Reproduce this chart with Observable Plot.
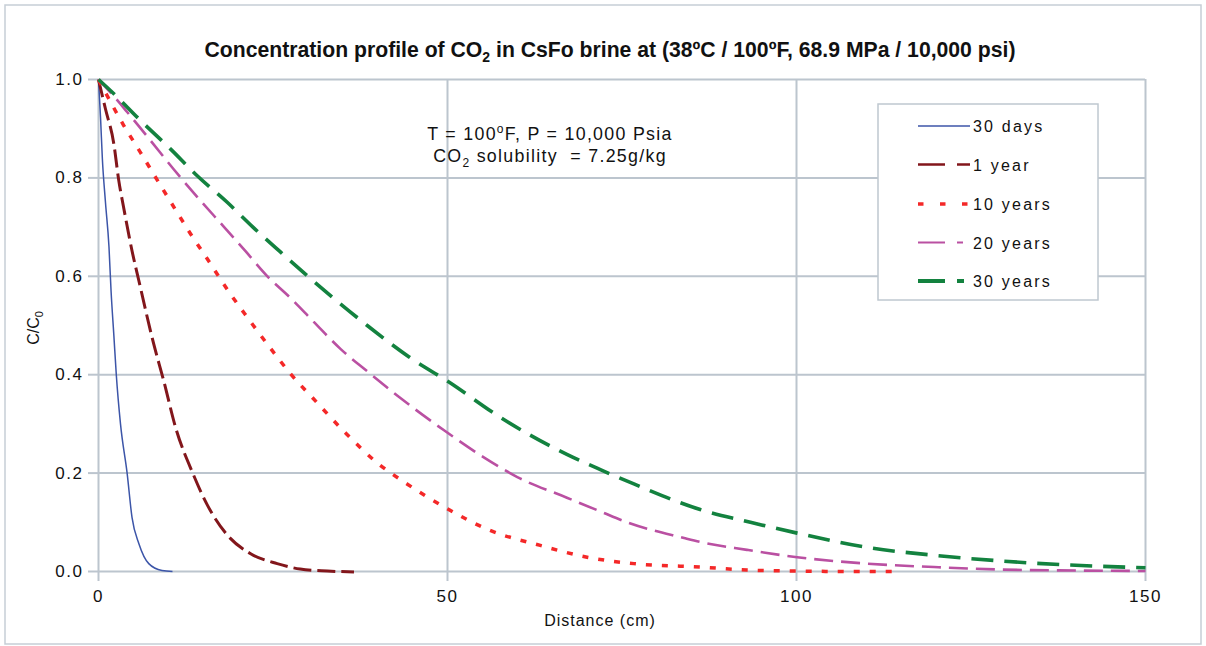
<!DOCTYPE html>
<html><head><meta charset="utf-8">
<script src="https://cdn.jsdelivr.net/npm/d3@7"></script>
<script src="https://cdn.jsdelivr.net/npm/@observablehq/plot@0.6"></script>
<style>
html,body{margin:0;padding:0;background:#fff;}
#chart{position:relative;width:1206px;height:646px;overflow:hidden;}
</style></head><body><div id="chart"></div>
<script>
// ---- data ----
const seriesNames = ["30 days", "1 year", "10 years", "20 years", "30 years"];
const seriesColors = ["#3c55a8", "#82161b", "#f42828", "#ba50a2", "#13823f"];

const dist30days = [0, 0.3, 0.55, 1.0, 1.5, 1.8, 2.2, 2.55, 3.15, 4.1, 4.8, 5.8, 7.2, 9.1, 10.6];
const conc30days = [1.0, 0.92, 0.84, 0.75, 0.66, 0.57, 0.48, 0.40, 0.30, 0.20, 0.11, 0.056, 0.016, 0.002, 0.0];

const dist1year = [0, 1.0, 2.2, 2.9, 3.6, 4.8, 5.8, 7.9, 9.3, 11.1, 13.5, 15.6, 18.4, 21.8, 25.6, 28.9, 32.8, 36.6];
const conc1year = [1.0, 0.94, 0.869, 0.795, 0.74, 0.652, 0.59, 0.463, 0.39, 0.29, 0.20, 0.135, 0.075, 0.036, 0.016, 0.005, 0.001, -0.001];

const dist10years = [0, 1.7, 3.6, 6.0, 8.4, 11.0, 13.2, 15.6, 18.9, 21.3, 25.6, 27.5, 30.8, 35.5, 40, 44.2, 49.2, 56.2, 63.3, 70.0, 76.7, 86.2, 92.9, 100, 107, 114.2];
const conc10years = [1.0, 0.955, 0.907, 0.852, 0.796, 0.736, 0.686, 0.635, 0.564, 0.517, 0.436, 0.402, 0.351, 0.28, 0.22, 0.178, 0.134, 0.083, 0.053, 0.029, 0.016, 0.009, 0.003, 0.001, 0.0, 0.0];

const dist20years = [0, 2.2, 4.1, 7.45, 10.8, 14.1, 18.0, 21.0, 24.2, 27.5, 30.8, 34.7, 38.5, 43.3, 49.5, 55.2, 60.0, 67.1, 71.9, 75.7, 83.9, 86.2, 92.9, 100.1, 110.1, 119.7, 129.2, 140, 150];
const conc20years = [1.0, 0.966, 0.934, 0.876, 0.817, 0.762, 0.700, 0.652, 0.600, 0.556, 0.508, 0.452, 0.407, 0.352, 0.287, 0.232, 0.192, 0.150, 0.122, 0.10, 0.068, 0.06, 0.044, 0.029, 0.016, 0.009, 0.004, 0.002, 0.001];

const dist30years = [0, 2.2, 6.0, 10.3, 14.1, 18.4, 22.2, 26.1, 30.4, 38.5, 44.5, 50.2, 57.6, 67.1, 71.9, 76.7, 86.2, 93.4, 100.1, 110.1, 119.7, 128.7, 134, 150];
const conc30years = [1.0, 0.971, 0.917, 0.859, 0.805, 0.751, 0.699, 0.649, 0.595, 0.50, 0.436, 0.385, 0.313, 0.238, 0.207, 0.178, 0.126, 0.10, 0.078, 0.049, 0.033, 0.022, 0.017, 0.0075];

const xTicks = [0, 50, 100, 150];
const yTicks = [0, 0.2, 0.4, 0.6, 0.8, 1.0];

// ---- build table ----
const distances = [dist30days, dist1year, dist10years, dist20years, dist30years];
const concs = [conc30days, conc1year, conc10years, conc20years, conc30years];
const series = seriesNames.map((name, i) => ({
  name, color: seriesColors[i],
  rows: distances[i].map((d, j) => ({distance: d, c: concs[i][j]}))
}));

const lineStyles = [
  {strokeWidth: 1.5, dash: null},
  {strokeWidth: 3, dash: "18,6"},
  {strokeWidth: 3.5, dash: "6,10"},
  {strokeWidth: 2.6, dash: "19,8"},
  {strokeWidth: 3.6, dash: "22,11"}
];
const legendStyles = [
  {w: 1.6, dash: null, end: 970},
  {w: 2.4, dash: "27,12", end: 970},
  {w: 3.6, dash: "5.5,16.5", end: 968},
  {w: 2.2, dash: "27,12", end: 963},
  {w: 4.2, dash: "27,12", end: 964}
];

const gridColor = "#bcc5ce";
const font = "'Liberation Sans', Arial, Helvetica, sans-serif";

const marks = [
  Plot.gridX(xTicks, {stroke: gridColor, strokeOpacity: 1, strokeWidth: 2}),
  Plot.gridY(yTicks, {stroke: gridColor, strokeOpacity: 1, strokeWidth: 2}),
  Plot.axisX(xTicks, {label: null, tickSize: 10, tickPadding: 8, stroke: gridColor, strokeWidth: 2, fill: "#111", fontSize: 17}),
  Plot.axisY(yTicks, {label: null, tickSize: 10, tickPadding: 5, tickFormat: d3.format(".1f"), stroke: gridColor, strokeWidth: 2, fill: "#111", fontSize: 17})
];
series.forEach((s, i) => {
  marks.push(Plot.line(s.rows, {
    x: "distance", y: "c", stroke: s.color, curve: "monotone-x",
    strokeWidth: lineStyles[i].strokeWidth,
    strokeDasharray: lineStyles[i].dash,
    strokeLinecap: "butt", strokeLinejoin: "round"
  }));
});

const chart = Plot.plot({
  width: 1206, height: 646,
  marginLeft: 98, marginRight: 61, marginTop: 79, marginBottom: 75,
  x: {domain: [0, 150]},
  y: {domain: [0, 1]},
  style: {fontFamily: font, background: "#fff", color: "#111", overflow: "visible"},
  marks
});
document.getElementById("chart").appendChild(chart);

const svg = d3.select(chart);
svg.selectAll("g[aria-label*='tick label']").style("letter-spacing", "1.5px");

// outer frame
svg.insert("rect", ":first-child")
  .attr("x", 5).attr("y", 5).attr("width", 1196).attr("height", 639)
  .attr("fill", "none").attr("stroke", "#c6ced6").attr("stroke-width", 1.5);

// title
const title = svg.append("text").attr("x", 610).attr("y", 57)
  .attr("text-anchor", "middle")
  .style("font-family", font).style("font-weight", "bold").style("font-size", "21.2px").attr("fill", "#111");
title.append("tspan").text("Concentration profile of CO");
title.append("tspan").attr("dy", 5).style("font-size", "14px").text("2");
title.append("tspan").attr("dy", -5).text(" in CsFo brine at (38ºC / 100ºF, 68.9 MPa / 10,000 psi)");

// annotation
const ann1 = svg.append("text").attr("x", 550).attr("y", 140).attr("text-anchor", "middle")
  .style("font-family", font).style("font-size", "17.8px").style("letter-spacing", "1.3px").attr("fill", "#111");
ann1.append("tspan").text("T = 100");
ann1.append("tspan").attr("dy", -7).style("font-size", "12px").text("o");
ann1.append("tspan").attr("dy", 7).text("F, P = 10,000 Psia");
const ann2 = svg.append("text").attr("x", 550).attr("y", 162).attr("text-anchor", "middle")
  .style("font-family", font).style("font-size", "17.8px").style("letter-spacing", "1.3px").attr("fill", "#111");
ann2.append("tspan").text("CO");
ann2.append("tspan").attr("dy", 5).style("font-size", "12px").text("2");
ann2.append("tspan").attr("dy", -5).text(" solubility  = 7.25g/kg");

// axis titles
svg.append("text").attr("x", 600).attr("y", 626).attr("text-anchor", "middle")
  .style("font-family", font).style("font-size", "16px").style("letter-spacing", "1px").attr("fill", "#111")
  .text("Distance (cm)");
const yl = svg.append("text").attr("transform", "translate(39,328) rotate(-90)").attr("text-anchor", "middle")
  .style("font-family", font).style("font-size", "16px").attr("fill", "#111");
yl.append("tspan").text("C/C");
yl.append("tspan").attr("dy", 4).style("font-size", "11px").text("0");

// legend
const lg = svg.append("g").attr("text-anchor", "start");
lg.append("rect").attr("x", 878).attr("y", 104).attr("width", 220).attr("height", 196)
  .attr("fill", "#fff").attr("stroke", "#bfc8d0").attr("stroke-width", 1.5);
const legendY = [126, 164.5, 204, 242.5, 281];
series.forEach((s, i) => {
  const ls = legendStyles[i];
  lg.append("line").attr("x1", 918).attr("x2", ls.end).attr("y1", legendY[i]).attr("y2", legendY[i])
    .attr("stroke", s.color).attr("stroke-width", ls.w)
    .attr("stroke-dasharray", ls.dash).attr("stroke-linecap", "butt");
  lg.append("text").attr("x", 973).attr("y", legendY[i] + 6).attr("text-anchor", "start")
    .style("font-family", font).style("font-size", "16px").style("letter-spacing", "2.2px").attr("fill", "#111")
    .text(s.name);
});
</script></body></html>
